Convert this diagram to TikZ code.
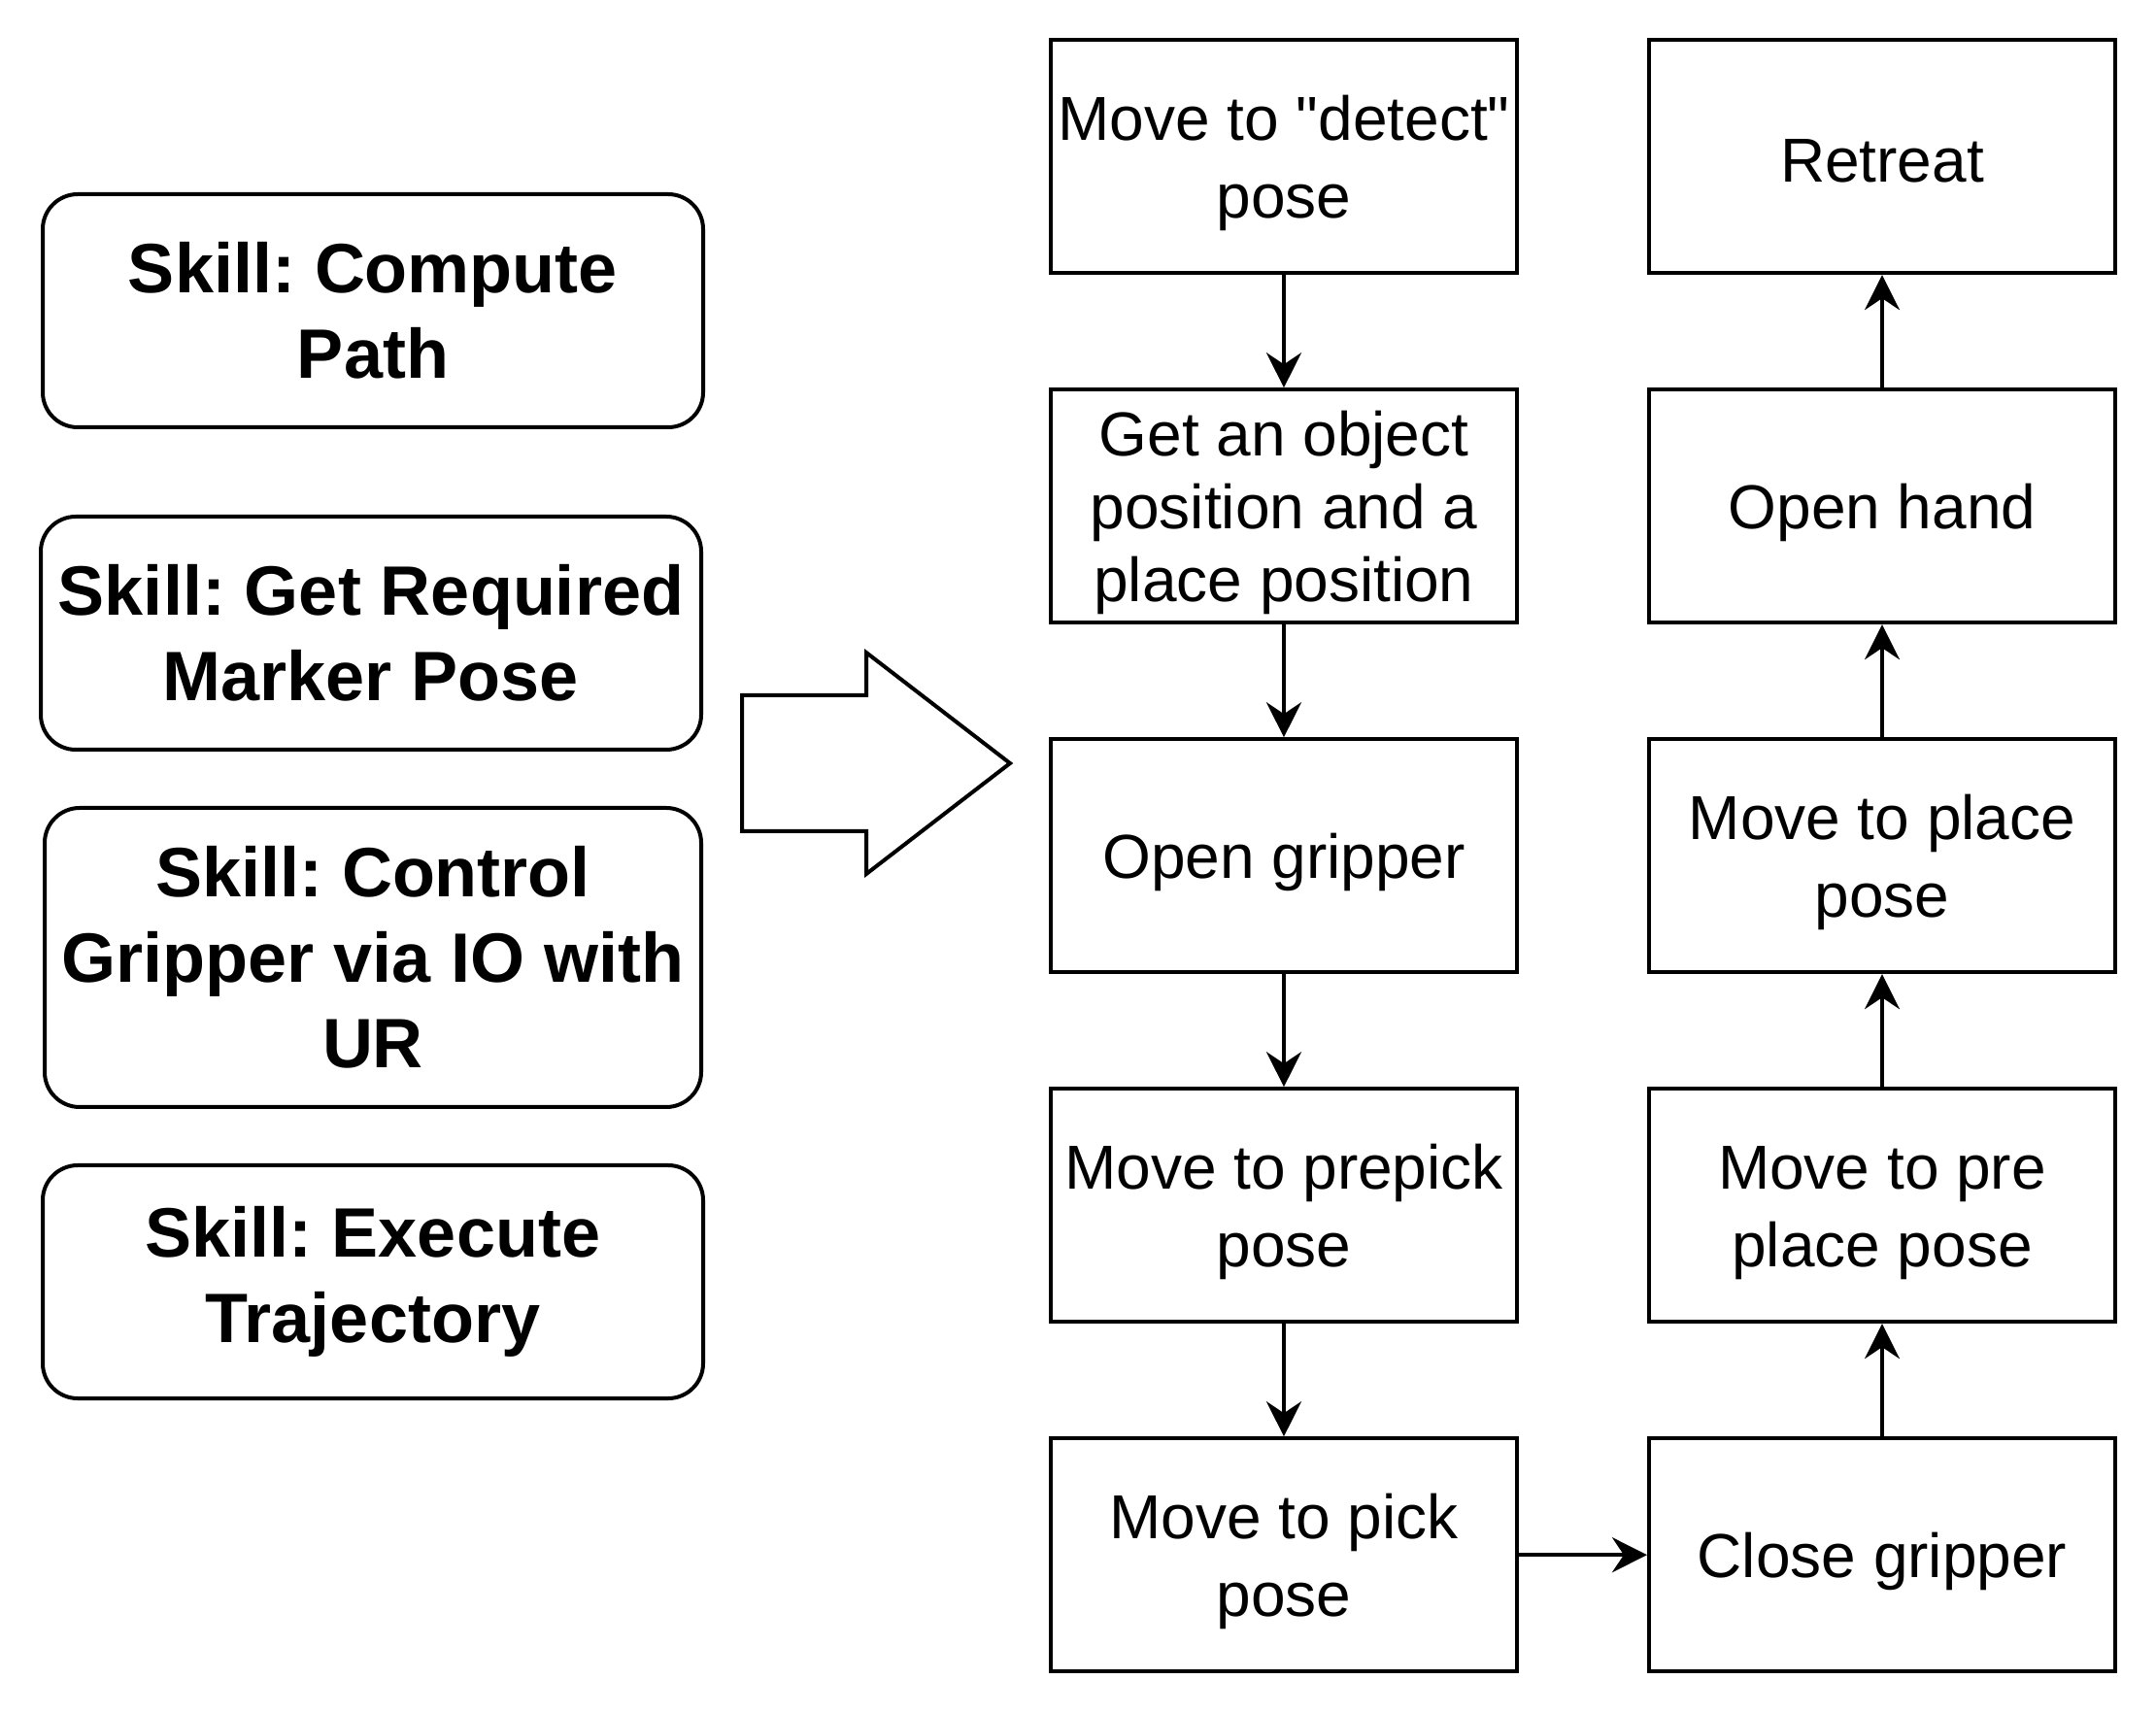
\documentclass[tikz,border=0pt]{standalone}
\usepackage{fontspec}
\setmainfont{Liberation Sans}
\usetikzlibrary{arrows.meta}
\frenchspacing
\newcommand{\boxstrut}{\rule[-2pt]{0pt}{17pt}}

\begin{document}
\begin{tikzpicture}[x=1pt, y=-1pt, line width=1pt]
    \useasboundingbox (0,0) rectangle (555,441);

    \tikzstyle{every node}=[rectangle, draw=black, rounded corners=9pt, align=center, inner sep=0pt, minimum width=170pt, minimum height=60pt, font=\fontsize{18}{22}\selectfont\bfseries, text=black]
    \node (path) at (96,80) {Skill: Compute\\Path};
    \node (marker) at (95.5,163) {Skill: Get Required\\Marker Pose};
    \node[minimum width=169pt, minimum height=77pt] (gripper) at (96,246.5) {Skill: Control\\Gripper via IO with\\UR};
    \node (traj) at (96,330) {Skill: Execute\\Trajectory};

    % big arrow
    \draw (191,179) -- (223,179) -- (223,168) -- (260,196.5) -- (223,225) -- (223,214) -- (191,214) -- cycle;

    \tikzstyle{every node}=[rectangle, draw=black, align=center, inner sep=0pt, minimum width=120pt, minimum height=60pt, font=\fontsize{16}{20}\selectfont, text=black]
    \node (detect) at (330.5,40.3) {\boxstrut Move to \textquotedbl detect\textquotedbl\\pose\boxstrut};
    \node[font=\fontsize{16}{18.8}\selectfont] (getpos) at (330.5,130.3) {\boxstrut Get an object\\position and a\\place position\boxstrut};
    \node (open) at (330.5,220.3) {\boxstrut Open gripper};
    \node (prepick) at (330.5,310.3) {\boxstrut Move to prepick\\pose\boxstrut};
    \node (pick) at (330.5,400.3) {\boxstrut Move to pick\\pose\boxstrut};

    \node (close) at (484.5,400.3) {\boxstrut Close gripper};
    \node (preplace) at (484.5,310.3) {\boxstrut Move to pre\\place pose\boxstrut};
    \node (place) at (484.5,220.3) {\boxstrut Move to place\\pose\boxstrut};
    \node (hand) at (484.5,130.3) {\boxstrut Open hand};
    \node (retreat) at (484.5,40.3) {\boxstrut Retreat};

    \tikzstyle{edge}=[black, line width=1pt, -{Stealth[length=9pt, width=9pt, inset=3pt]}]
    \draw[edge] (detect) -- (getpos);
    \draw[edge] (getpos) -- (open);
    \draw[edge] (open) -- (prepick);
    \draw[edge] (prepick) -- (pick);
    \draw[edge] (pick) -- (close);
    \draw[edge] (close) -- (preplace);
    \draw[edge] (preplace) -- (place);
    \draw[edge] (place) -- (hand);
    \draw[edge] (hand) -- (retreat);
\end{tikzpicture}
\end{document}
